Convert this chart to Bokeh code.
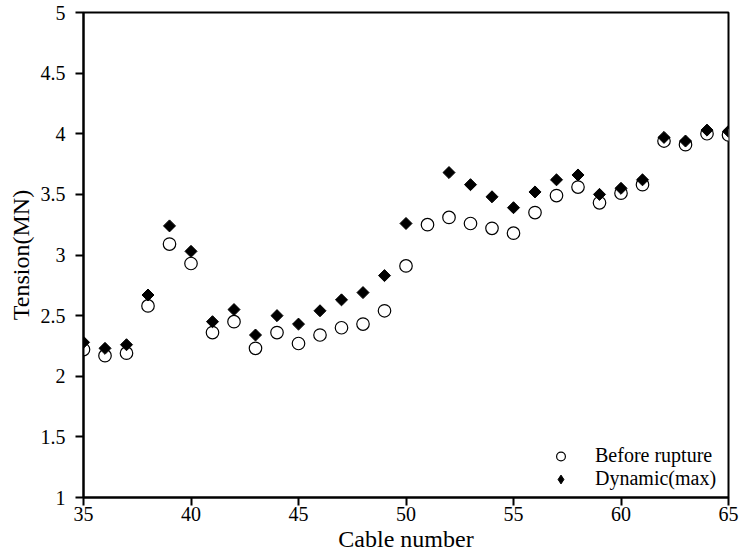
import math
from bokeh.plotting import figure
from bokeh.models import FixedTicker, Range1d, Legend, LegendItem
from bokeh.embed import file_html
from bokeh.resources import INLINE

cables = list(range(35, 66))
before = [2.22, 2.17, 2.19, 2.58, 3.09, 2.93, 2.36, 2.45, 2.23, 2.36,
          2.27, 2.34, 2.40, 2.43, 2.54, 2.91, 3.25, 3.31, 3.26, 3.22,
          3.18, 3.35, 3.49, 3.56, 3.43, 3.51, 3.58, 3.94, 3.91, 4.00, 3.99]
dynamic = [2.28, 2.23, 2.26, 2.67, 3.24, 3.03, 2.45, 2.55, 2.34, 2.50,
           2.43, 2.54, 2.63, 2.69, 2.83, 3.26, float("nan"), 3.68, 3.58, 3.48,
           3.39, 3.52, 3.62, 3.66, 3.50, 3.55, 3.62, 3.97, 3.94, 4.03, 4.02]
x_ticks = [35, 40, 45, 50, 55, 60, 65]
y_ticks = [1, 1.5, 2, 2.5, 3, 3.5, 4, 4.5, 5]
y_tick_labels = ["1", "1.5", "2", "2.5", "3", "3.5", "4", "4.5", "5"]

FONT = "Liberation Serif"

p = figure(width=740, height=560, output_backend="svg", toolbar_location=None,
           x_range=Range1d(35, 65), y_range=Range1d(1, 5),
           min_border_left=83, min_border_right=12, min_border_top=12, min_border_bottom=63)

p.xgrid.visible = False
p.ygrid.visible = False
p.outline_line_color = "black"
p.outline_line_width = 2
p.outline_line_alpha = 1

for ax in (p.xaxis[0], p.yaxis[0]):
    ax.axis_line_width = 2
    ax.axis_line_color = "black"
    ax.major_tick_line_width = 2
    ax.major_tick_line_color = "black"
    ax.major_tick_in = 0
    ax.major_tick_out = 8
    ax.minor_tick_line_color = None
    ax.major_label_text_font = FONT
    ax.major_label_text_font_size = "20px"
    ax.major_label_text_color = "black"
    ax.axis_label_text_font = FONT
    ax.axis_label_text_font_size = "24px"
    ax.axis_label_text_font_style = "normal"
    ax.axis_label_text_color = "black"

p.xaxis.ticker = FixedTicker(ticks=x_ticks, minor_ticks=[])
p.yaxis.ticker = FixedTicker(ticks=y_ticks, minor_ticks=[])
p.yaxis.major_label_overrides = {t: l for t, l in zip(y_ticks, y_tick_labels)}
p.xaxis.axis_label = "Cable number"
p.yaxis.axis_label = "Tension(MN)"
p.xaxis.axis_label_standoff = 2
p.yaxis.axis_label_standoff = 4
p.xaxis.major_label_standoff = 1
p.yaxis.major_label_standoff = 10

r1 = p.scatter(cables, before, marker="circle", size=12.5, fill_color="white",
               line_color="black", line_width=1.2)
r2 = p.scatter(cables, dynamic, marker="square", size=8.5, angle=math.pi / 4,
               fill_color="black", line_color="black", line_width=1)
# legend-only glyph (legend glyphs are never rotated); no visible data
r2_leg = p.scatter([float("nan")], [float("nan")], marker="diamond",
                   fill_color="black", line_color="black", line_width=1)

legend = Legend(items=[LegendItem(label="Before rupture", renderers=[r1]),
                       LegendItem(label="Dynamic(max)", renderers=[r2_leg])],
                location=(465, 7), border_line_color=None,
                background_fill_alpha=0, label_text_font=FONT,
                label_text_font_size="20px", label_text_color="black",
                spacing=0, padding=0, margin=0, glyph_width=25, glyph_height=22,
                label_height=20, label_standoff=22)
p.add_layout(legend)

open("out.html", "w").write(file_html(p, INLINE))
